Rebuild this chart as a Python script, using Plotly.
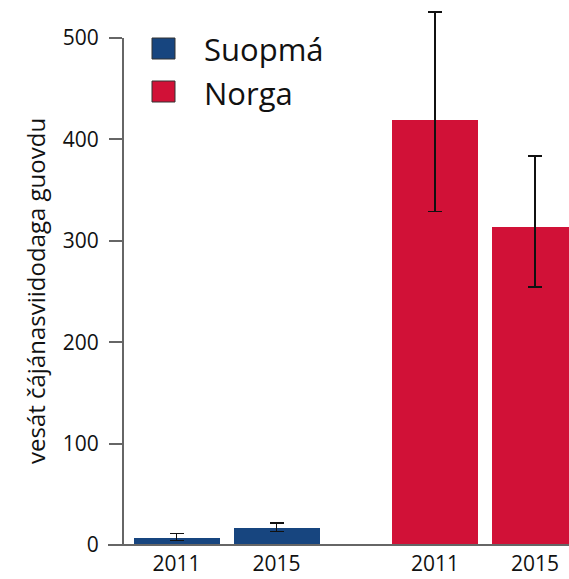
import plotly.graph_objects as go

# ---- data ----
countries = ["Suopmá", "Norga"]
years = ["2011", "2015"]
values = {"Suopmá": [6.6, 16.8], "Norga": [419, 313.6]}
upper = {"Suopmá": [11.1, 21.7], "Norga": [525.6, 383.6]}
lower = {"Suopmá": [4.6, 13.1], "Norga": [329, 254.4]}
colors = {"Suopmá": "#17457f", "Norga": "#d11137"}
y_ticks = [0, 100, 200, 300, 400, 500]
y_title = "vesát čájánasviidodaga guovdu"

W, H = 569, 579
ml, mr, mt, mb = 123, 0, 8, 34
group_step = 2.585
yr_top = 529.6
FONT = "Open Sans"
TXT = "#111111"

fig = go.Figure()
tickvals, ticktext = [], []
for gi, c in enumerate(countries):
    xs = [gi * group_step + i for i in range(len(years))]
    tickvals += xs
    ticktext += years
    v = values[c]
    fig.add_trace(go.Bar(
        x=xs, y=v, width=0.86, name=c, showlegend=False,
        marker=dict(color=colors[c], line=dict(width=0)),
        error_y=dict(type="data", symmetric=False,
                     array=[u - a for u, a in zip(upper[c], v)],
                     arrayminus=[a - l for l, a in zip(lower[c], v)],
                     color="#111111", thickness=1.5, width=7),
    ))

pw = W - ml - mr
ph = H - mt - mb
shapes = [
    dict(type="line", xref="paper", yref="paper", x0=-15 / pw, x1=1, y0=0, y1=0,
         line=dict(color="#666666", width=2)),
    dict(type="line", xref="paper", yref="paper", x0=0, x1=0, y0=0, y1=500 / yr_top,
         line=dict(color="#666666", width=2)),
]
annotations = [
    dict(text=y_title, xref="paper", yref="paper", x=(36 - ml) / pw, y=(545 - 291) / ph,
         textangle=-90, showarrow=False, font=dict(size=24, color=TXT, family=FONT),
         xanchor="center", yanchor="middle"),
]
leg_rows = [(38, 59), (81, 102)]
for c, (t, b) in zip(countries, leg_rows):
    shapes.append(dict(type="rect", xref="paper", yref="paper",
                       x0=(152 - ml) / pw, x1=(175 - ml) / pw,
                       y0=(545 - b) / ph, y1=(545 - t) / ph,
                       fillcolor=colors[c], line=dict(color="#333333", width=1)))
    annotations.append(dict(text=c, xref="paper", yref="paper",
                            x=(202 - ml) / pw, y=(545 - (t + b) / 2 - 1) / ph,
                            xanchor="left", yanchor="middle", showarrow=False,
                            font=dict(size=31, color=TXT, family=FONT)))

fig.update_layout(
    width=W, height=H, margin=dict(l=ml, r=mr, t=mt, b=mb),
    plot_bgcolor="white", paper_bgcolor="white",
    font=dict(family=FONT, color=TXT, size=21),
    xaxis=dict(range=[-0.535, 3.925], tickvals=tickvals, ticktext=ticktext,
               showgrid=False, zeroline=False, showline=False, ticks="",
               ticklabelstandoff=4, tickfont=dict(size=21, color=TXT)),
    yaxis=dict(range=[0, yr_top], tickvals=y_ticks, showgrid=False, zeroline=False,
               showline=False, ticks="outside", ticklen=13, tickwidth=1.5,
               tickcolor="#666666", ticklabelstandoff=6, tickfont=dict(size=21, color=TXT)),
    shapes=shapes, annotations=annotations, bargap=0,
)
fig.write_html("out.html", config={"displayModeBar": False},
               post_script="document.body.style.margin='0';")
